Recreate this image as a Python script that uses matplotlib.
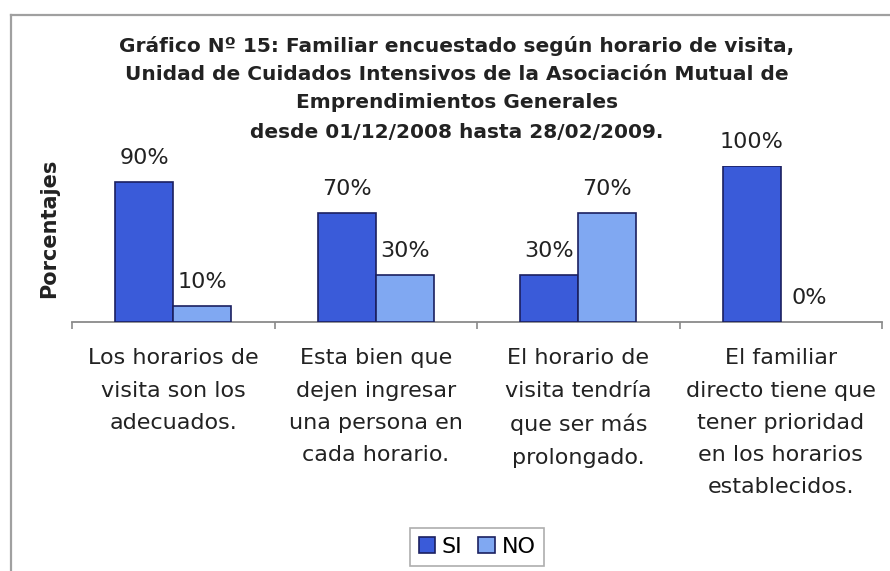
import numpy as np
import matplotlib
matplotlib.use('Agg')
import matplotlib.pyplot as plt
from matplotlib.lines import Line2D

plt.rcParams['font.family'] = ['DejaVu Sans']

# datos
categorias = ['Los horarios de\nvisita son los\nadecuados.',
              'Esta bien que\ndejen ingresar\nuna persona en\ncada horario.',
              'El horario de\nvisita tendría\nque ser más\nprolongado.',
              'El familiar\ndirecto tiene que\ntener prioridad\nen los horarios\nestablecidos.']
si = [90, 70, 30, 100]
no = [10, 30, 70, 0]
series = ['SI', 'NO']
colores = ['#3a5bd9', '#80a8f2']

titulo = ['Gráfico Nº 15: Familiar encuestado según horario de visita,',
          'Unidad de Cuidados Intensivos de la Asociación Mutual de',
          'Emprendimientos Generales',
          'desde 01/12/2008 hasta 28/02/2009.']

W, H = 890, 571
fig = plt.figure(figsize=(W / 100, H / 100), dpi=100)
fig.patch.set_facecolor('white')

# marco del grafico (solo se ve borde izq. y superior)
fig.add_artist(Line2D([10.5 / W, 10.5 / W], [0, 1 - 15 / H], color='#a0a0a0', lw=1.6,
                      transform=fig.transFigure))
fig.add_artist(Line2D([10.5 / W, 1], [1 - 15 / H, 1 - 15 / H], color='#a0a0a0', lw=1.6,
                      transform=fig.transFigure))

ax = fig.add_axes([72 / W, 1 - 322 / H, 810 / W, 156 / H])
x = np.arange(len(categorias))
ancho = 0.286
b1 = ax.bar(x - ancho / 2, si, ancho, color=colores[0], edgecolor='#1b2060', lw=1.2,
            label=series[0], zorder=3)
b2 = ax.bar(x + ancho / 2, no, ancho, color=colores[1], edgecolor='#1b2060', lw=1.2,
            label=series[1], zorder=3)

# etiquetas de datos
for barras in (b1, b2):
    for b in barras:
        h = b.get_height()
        if h == 0:
            b.set_linewidth(0)
        ax.annotate('%d%%' % h, (b.get_x() + b.get_width() / 2, h), xytext=(0, 13),
                    textcoords='offset points', ha='center', va='baseline',
                    fontsize=16, color='#222222', annotation_clip=False)

ax.set_xlim(-0.5, len(categorias) - 0.5)
ax.set_ylim(0, 100)
ax.set_yticks([])
for s in ['top', 'right', 'left']:
    ax.spines[s].set_visible(False)
ax.spines['bottom'].set_color('#8a8a8a')
ax.spines['bottom'].set_linewidth(1.3)

# ticks en los bordes de categoria, etiquetas en el centro
ax.set_xticks(np.arange(-0.5, len(categorias), 1.0))
ax.set_xticklabels([])
ax.tick_params(axis='x', which='major', direction='out', length=5, color='#8a8a8a', width=1.2)
ax.set_xticks(x, minor=True)
ax.set_xticklabels(categorias, minor=True, fontsize=16, color='#222222', linespacing=1.76,
                   va='top')
ax.tick_params(axis='x', which='minor', length=0, pad=19)

# titulo, una linea por fila
for linea, base in zip(titulo, [52, 80, 108, 138]):
    fig.text(457 / W, 1 - base / H, linea, ha='center', va='baseline', fontsize=14.5,
             fontweight='bold', color='#222222')
fig.text(49 / W, 1 - 228 / H, 'Porcentajes', rotation=90, ha='center', va='center',
         fontsize=15, fontweight='bold', color='#222222')

leg = fig.legend(loc='upper center', bbox_to_anchor=(477 / W, 1 - 528 / H), ncol=2,
                 fontsize=16, frameon=True, fancybox=False, edgecolor='#9a9a9a',
                 handlelength=0.75, handleheight=0.75, handletextpad=0.3, columnspacing=0.7,
                 borderpad=0.4, borderaxespad=0)
leg.get_frame().set_linewidth(1.2)

fig.savefig('out.png', dpi=100, facecolor='white')
